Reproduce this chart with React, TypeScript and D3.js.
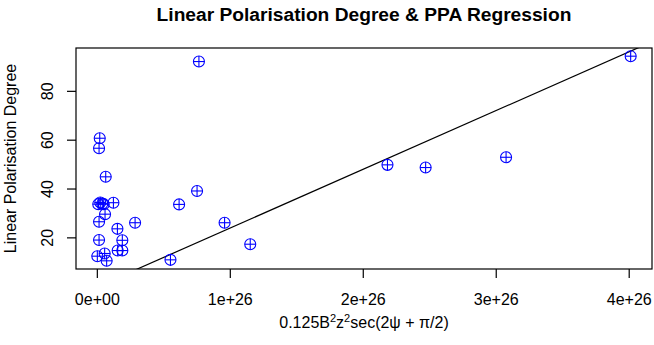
import React from 'react';
import * as d3 from 'd3';

// values (x in units of the sec() term, y = polarisation degree)
const xValues = [
  4.011e26, 0.764e26, 0.018e26, 0.013e26, 0.063e26, 0.007e26, 0.022e26, 0.037e26,
  0.048e26, 0.121e26, 0.058e26, 0.013e26, 0.151e26, 0.013e26, 0.188e26, 0.153e26,
  0.188e26, 0.0, 0.055e26, 0.07e26, 0.284e26, 0.55e26, 0.615e26, 0.75e26,
  0.957e26, 1.15e26, 2.182e26, 2.469e26, 3.074e26,
];
const yValues = [
  94.4, 92.2, 60.8, 56.7, 45.0, 33.8, 34.5, 34.0,
  33.8, 34.4, 29.7, 26.6, 23.7, 19.1, 19.0, 14.8,
  14.8, 12.5, 13.6, 10.6, 26.2, 11.0, 33.7, 39.2,
  26.2, 17.4, 49.9, 48.8, 53.0,
];
const xTicks = [0, 1e26, 2e26, 3e26, 4e26];
const xTickLabels = ['0e+00', '1e+26', '2e+26', '3e+26', '4e+26'];
const yTicks = [20, 40, 60, 80];
const yTickLabels = ['20', '40', '60', '80'];

const W = 654;
const H = 345;
const box = { left: 76, right: 652, top: 48, bottom: 269 };
const font = 'Liberation Sans, Arial, Helvetica, sans-serif';

// R style axis range: data extent widened by 4% on each side
const padded = (vals: number[]) => {
  const [lo, hi] = d3.extent(vals) as [number, number];
  const p = (hi - lo) * 0.04;
  return [lo - p, hi + p];
};

export default function App() {
  const x = d3.scaleLinear().domain(padded(xValues)).range([box.left, box.right]);
  const y = d3.scaleLinear().domain(padded(yValues)).range([box.bottom, box.top]);

  // regression through the origin: slope = sum(xy) / sum(x^2)
  const pts = xValues.map((v, i) => ({ x: v, y: yValues[i] }));
  const slope = d3.sum(pts, (d) => d.x * d.y) / d3.sum(pts, (d) => d.x * d.x);
  const [x0, x1] = x.domain();
  const line = d3.line<number>()
    .x((d) => x(d))
    .y((d) => y(d * slope));

  const r = 5.5;

  return (
    <svg width={W} height={H} style={{ position: 'absolute', left: 0, top: 0 }}
      fontFamily={font}>
      <rect width={W} height={H} fill="white" />
      <text x={(box.left + box.right) / 2} y={21} textAnchor="middle"
        fontSize={19.2} fontWeight="bold">
        Linear Polarisation Degree &amp; PPA Regression
      </text>

      <clipPath id="plotclip">
        <rect x={box.left} y={box.top} width={box.right - box.left}
          height={box.bottom - box.top} />
      </clipPath>

      <g clipPath="url(#plotclip)">
        <path d={line([x0, x1]) || ''} fill="none" stroke="black" strokeWidth={1.2} />
      </g>

      {pts.map((d, i) => (
        <g key={i} transform={`translate(${x(d.x)},${y(d.y)})`} stroke="#0000ff"
          strokeWidth={1.1} fill="none">
          <circle r={r} />
          <line x1={-r} x2={r} y1={0} y2={0} />
          <line x1={0} x2={0} y1={-r} y2={r} />
        </g>
      ))}

      <rect x={box.left} y={box.top} width={box.right - box.left}
        height={box.bottom - box.top} fill="none" stroke="black" strokeWidth={1.2} />

      {/* x axis */}
      {xTicks.map((t, i) => (
        <g key={i}>
          <line x1={x(t)} x2={x(t)} y1={box.bottom} y2={box.bottom + 9}
            stroke="black" strokeWidth={1.2} />
          <text x={x(t)} y={305} textAnchor="middle" fontSize={16}>
            {xTickLabels[i]}
          </text>
        </g>
      ))}

      {/* y axis */}
      {yTicks.map((t, i) => (
        <g key={i}>
          <line x1={box.left - 9} x2={box.left} y1={y(t)} y2={y(t)}
            stroke="black" strokeWidth={1.2} />
          <text transform={`translate(${box.left - 23},${y(t)}) rotate(-90)`}
            textAnchor="middle" fontSize={16}>
            {yTickLabels[i]}
          </text>
        </g>
      ))}

      <text transform={`translate(16,${(box.top + box.bottom) / 2}) rotate(-90)`}
        textAnchor="middle" fontSize={16}>
        Linear Polarisation Degree
      </text>

      <text x={(box.left + box.right) / 2} y={328} textAnchor="middle" fontSize={16}>
        0.125B
        <tspan fontSize={11} dy={-6}>2</tspan>
        <tspan dy={6}>z</tspan>
        <tspan fontSize={11} dy={-6}>2</tspan>
        <tspan dy={6}>sec(2ψ + π/2)</tspan>
      </text>
    </svg>
  );
}
